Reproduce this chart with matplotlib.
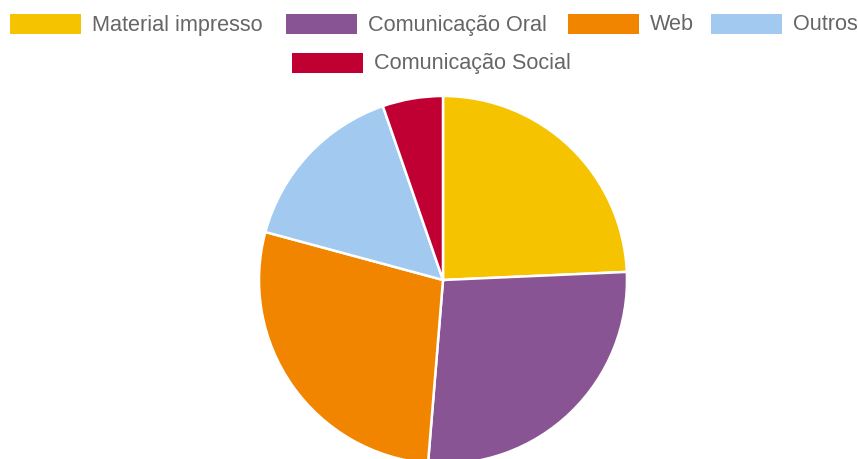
import matplotlib
matplotlib.use("Agg")
import matplotlib.pyplot as plt
from matplotlib.patches import Rectangle

categories = ["Material impresso", "Comunicação Oral", "Web", "Outros", "Comunicação Social"]
values = [24.3, 27.0, 27.9, 15.5, 5.3]
colors = ["#F5C300", "#885494", "#F28500", "#A2CAF0", "#C00033"]

W, H = 858, 460
fig = plt.figure(figsize=(W / 100, H / 100), dpi=100)
fig.patch.set_facecolor("white")

cx, cy, r = 443, 281, 184
ax = fig.add_axes([(cx - r) / W, (H - cy - r) / H, 2 * r / W, 2 * r / H])
ax.pie(values, colors=colors, startangle=90, counterclock=False, radius=1,
       wedgeprops=dict(edgecolor="white", linewidth=1.8))
ax.set_xlim(-1, 1)
ax.set_ylim(-1, 1)
ax.set_aspect("equal")
ax.axis("off")

# legend (manual placement, pixel coordinates from top-left)
box_x = [10, 286, 568, 711, 292]
box_y = [15, 15, 15, 15, 54]
bw, bh = 71, 20
for lab, col, bx, by in zip(categories, colors, box_x, box_y):
    fig.patches.append(Rectangle((bx / W, 1 - (by + bh) / H), bw / W, bh / H,
                                 transform=fig.transFigure, facecolor=col,
                                 edgecolor="none"))
    fig.text((bx + bw + 11) / W, 1 - (by + bh / 2) / H, lab,
             ha="left", va="center", fontsize=15.6, color="#666666",
             family="Liberation Sans")

fig.savefig("out.png", dpi=100, facecolor="white")
